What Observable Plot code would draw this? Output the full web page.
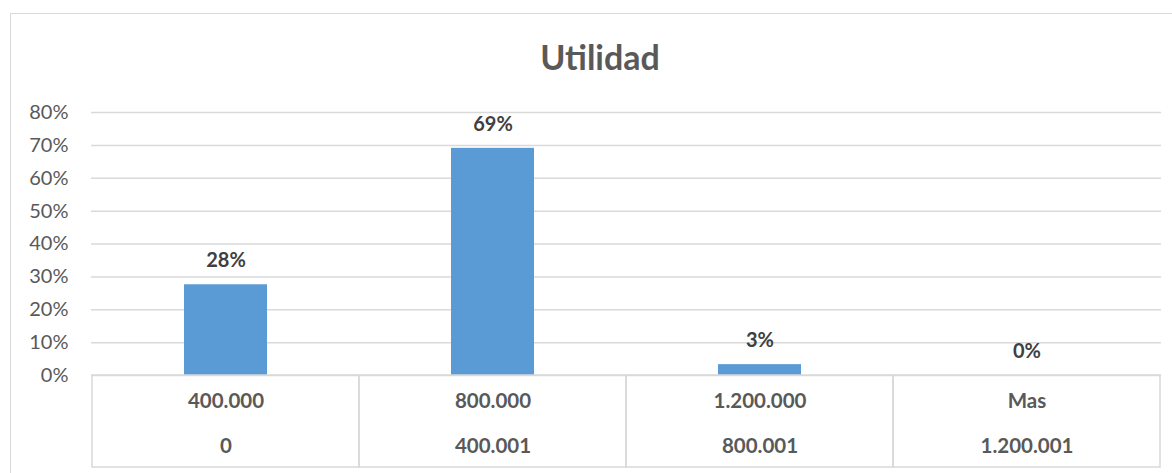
<!DOCTYPE html>
<html>
<head>
<meta charset="utf-8">
<script src="https://cdn.jsdelivr.net/npm/d3@7"></script>
<script src="https://cdn.jsdelivr.net/npm/@observablehq/plot@0.6"></script>
<style>
  html, body { margin: 0; padding: 0; background: #fff; }
  #wrap { position: relative; width: 1172px; height: 473px; overflow: hidden; font-family: Lato, "Open Sans", sans-serif; }
  #border { position: absolute; left: 10px; top: 13px; width: 1200px; height: 500px; border: 1.5px solid #d9d9d9; box-sizing: border-box; }
  #title { position: absolute; left: 0; width: 1200px; top: 37px; text-align: center; font-size: 34px; font-weight: bold; color: #595959; line-height: 40px; }
  #chart { position: absolute; left: 0; top: 0; }
</style>
</head>
<body>
<div id="wrap">
  <div id="border"></div>
  <div id="chart"></div>
  <div id="title">Utilidad</div>
</div>
<script>
const categories = ["400.000", "800.000", "1.200.000", "Mas"];
const lowerLabels = ["0", "400.001", "800.001", "1.200.001"];
const values = [0.276, 0.691, 0.033, 0];
const yTicks = [0, 0.1, 0.2, 0.3, 0.4, 0.5, 0.6, 0.7, 0.8];

const data = categories.map((c, i) => ({cat: c, lower: lowerLabels[i], value: values[i]}));
const pct = d3.format(".0%");

const chart = Plot.plot({
  width: 1172,
  height: 473,
  marginLeft: 91,
  marginRight: 11,
  marginTop: 112,
  marginBottom: 98,
  style: {fontFamily: "Lato, 'Open Sans', sans-serif", background: "transparent", overflow: "visible"},
  x: {type: "band", domain: categories, padding: 0, axis: null},
  y: {domain: [0, 0.8], axis: null},
  marks: [
    Plot.ruleY(yTicks, {stroke: "#d9d9d9", strokeWidth: 1.5}),
    Plot.axisY(yTicks, {tickFormat: pct, tickSize: 0, tickPadding: 23, fontSize: 20, fill: "#595959", color: "#595959", label: null}),
    Plot.barY(data, {x: "cat", y: "value", fill: "#5b9bd5", insetLeft: 92, insetRight: 92}),
    Plot.barY(data, {x: "cat", y1: 0, y2: 0, insetBottom: -92, fill: "none", stroke: "#d9d9d9", strokeWidth: 1.5}),
    Plot.text(data, {x: "cat", y: "value", text: d => pct(d.value), dy: -24, fontSize: 20, fontWeight: "bold", fill: "#404040"}),
    Plot.text(data, {x: "cat", text: "cat", frameAnchor: "bottom", dy: 32, fontSize: 20.5, fontWeight: "bold", fill: "#595959"}),
    Plot.text(data, {x: "cat", text: "lower", frameAnchor: "bottom", dy: 77, fontSize: 20.5, fontWeight: "bold", fill: "#595959"})
  ]
});
document.getElementById("chart").appendChild(chart);
</script>
</body>
</html>
